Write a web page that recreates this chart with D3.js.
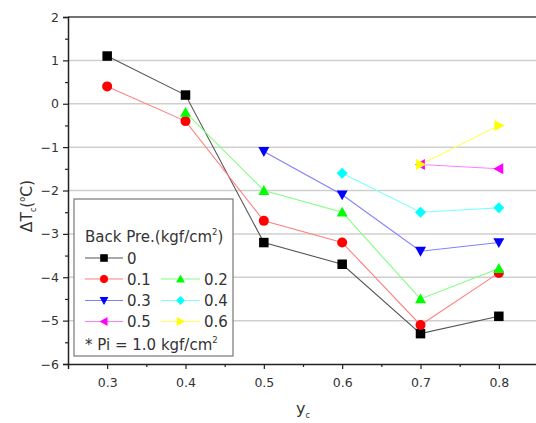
<!DOCTYPE html>
<html><head><meta charset="utf-8">
<script src="https://cdn.jsdelivr.net/npm/d3@7"></script>
<style>body{margin:0;background:#fff}svg{display:block;font-family:"DejaVu Sans",sans-serif}</style>
</head><body><svg id="c" width="536" height="423"></svg>
<script>
const xs = [0.3, 0.4, 0.5, 0.6, 0.7, 0.8];
const s0  = [1.1, 0.2, -3.2, -3.7, -5.3, -4.9];
const s01 = [0.4, -0.4, -2.7, -3.2, -5.1, -3.9];
const s02 = [null, -0.2, -2.0, -2.5, -4.5, -3.8];
const s03 = [null, null, -1.1, -2.1, -3.4, -3.2];
const s04 = [null, null, null, -1.6, -2.5, -2.4];
const s05 = [null, null, null, null, -1.4, -1.5];
const s06 = [null, null, null, null, -1.4, -0.5];
const seriesNames = ["0", "0.1", "0.2", "0.3", "0.4", "0.5", "0.6"];
const yTicks = [2, 1, 0, -1, -2, -3, -4, -5, -6];
const xTicks = [0.3, 0.4, 0.5, 0.6, 0.7, 0.8];

const series = [
  {name: seriesNames[0], vals: s0,  color: "#000000", line: "#555555", sym: "square"},
  {name: seriesNames[1], vals: s01, color: "#ff0000", line: "#ff8080", sym: "circle"},
  {name: seriesNames[2], vals: s02, color: "#00ff00", line: "#80ff80", sym: "up"},
  {name: seriesNames[3], vals: s03, color: "#0000ff", line: "#8080ff", sym: "down"},
  {name: seriesNames[4], vals: s04, color: "#00ffff", line: "#80ffff", sym: "diamond"},
  {name: seriesNames[5], vals: s05, color: "#ff00ff", line: "#ff80ff", sym: "left"},
  {name: seriesNames[6], vals: s06, color: "#ffff00", line: "#ffff60", sym: "right"}
];

const svg = d3.select("#c");
const L = 68, T = 17, B = 364;
const x = d3.scaleLinear().domain([0.25, 0.85]).range([L, 538]);
const y = d3.scaleLinear().domain([-6, 2]).range([B, T]);

// gridlines
svg.append("g").selectAll("line").data(yTicks.filter(v => v < 2 && v > -6)).join("line")
  .attr("x1", L).attr("x2", 536).attr("y1", d => y(d)).attr("y2", d => y(d))
  .attr("stroke", "#cfcfcf").attr("stroke-width", 1.5);

// top border
svg.append("line").attr("x1", L).attr("x2", 536).attr("y1", T).attr("y2", T)
  .attr("stroke", "#444").attr("stroke-width", 1.5);

// y axis
const yAxis = svg.append("g").attr("transform", `translate(${L},0)`)
  .call(d3.axisLeft(y).tickValues(yTicks).tickSize(5).tickFormat(d3.format("d")));
svg.append("g").attr("transform", `translate(${L},0)`)
  .call(d3.axisLeft(y).tickValues(d3.range(-5.5, 2, 1)).tickSize(3).tickFormat(""))
  .call(g => g.select(".domain").remove());
// x axis
const xAxis = svg.append("g").attr("transform", `translate(0,${B})`)
  .call(d3.axisBottom(x).tickValues(xTicks).tickSize(5).tickFormat(d3.format(".1f")));
svg.append("g").attr("transform", `translate(0,${B})`)
  .call(d3.axisBottom(x).tickValues([0.35, 0.45, 0.55, 0.65, 0.75]).tickSize(3).tickFormat(""))
  .call(g => g.select(".domain").remove());
svg.selectAll(".domain").attr("stroke", "#222").attr("stroke-width", 1.5);
svg.selectAll(".tick line").attr("stroke", "#222").attr("stroke-width", 1.2);
yAxis.selectAll("text").attr("font-size", 12.5).attr("fill", "#333").attr("x", -9)
  .attr("font-family", "'DejaVu Sans', sans-serif");
xAxis.selectAll("text").attr("font-size", 12.5).attr("fill", "#333").attr("y", 14)
  .attr("font-family", "'DejaVu Sans', sans-serif");

// axis titles
const yl = svg.append("text").attr("transform", "translate(32,206) rotate(-90)")
  .attr("text-anchor", "middle").attr("font-size", 15.5).attr("fill", "#333");
yl.append("tspan").text("ΔT");
yl.append("tspan").attr("font-size", 8).attr("dy", 4).text("c");
yl.append("tspan").attr("dy", -4).text("(");
yl.append("tspan").attr("font-size", 8).attr("dy", -7).text("o");
yl.append("tspan").attr("dy", 7).text("C)");

const xl = svg.append("text").attr("x", 296).attr("y", 414).attr("font-size", 16).attr("fill", "#333");
xl.append("tspan").text("y");
xl.append("tspan").attr("font-size", 8).attr("dy", 4).text("c");

// symbols
function drawSym(g, sym, cx, cy, color, k) {
  const s = 9.5 * k;
  let el;
  if (sym === "square") el = g.append("rect").attr("x", cx - s/2).attr("y", cy - s/2).attr("width", s).attr("height", s);
  else if (sym === "circle") el = g.append("circle").attr("cx", cx).attr("cy", cy).attr("r", 5 * k);
  else {
    const h = 5.5 * k;
    let pts;
    if (sym === "up") pts = [[0, -h], [h, h*0.8], [-h, h*0.8]];
    if (sym === "down") pts = [[0, h], [h, -h*0.8], [-h, -h*0.8]];
    if (sym === "left") pts = [[-h, 0], [h*0.8, -h], [h*0.8, h]];
    if (sym === "right") pts = [[h, 0], [-h*0.8, -h], [-h*0.8, h]];
    if (sym === "diamond") pts = [[0, -h], [h, 0], [0, h], [-h, 0]];
    el = g.append("polygon").attr("points", pts.map(p => [cx + p[0], cy + p[1]].join(",")).join(" "));
  }
  el.attr("fill", color);
}

const line = d3.line().defined(d => d[1] != null).x(d => x(d[0])).y(d => y(d[1]));
const plot = svg.append("g");
series.forEach(s => {
  const pts = xs.map((v, i) => [v, s.vals[i]]);
  plot.append("path").datum(pts).attr("d", line).attr("fill", "none")
    .attr("stroke", s.line).attr("stroke-width", 1.1);
});
series.forEach(s => {
  xs.forEach((v, i) => { if (s.vals[i] != null) drawSym(plot, s.sym, x(v), y(s.vals[i]), s.color, 1); });
});

// legend
const lg = svg.append("g");
lg.append("rect").attr("x", 74).attr("y", 199).attr("width", 159).attr("height", 157)
  .attr("fill", "#fff").attr("stroke", "#777").attr("stroke-width", 1.2);
const lt = lg.append("text").attr("x", 85).attr("y", 242).attr("font-size", 15).attr("fill", "#333");
lt.append("tspan").text("Back Pre.(kgf/cm");
lt.append("tspan").attr("font-size", 8.5).attr("dy", -7).text("2");
lt.append("tspan").attr("dy", 7).text(")");
const rowsY = [258, 279, 300.5, 321.5];
const layout = [[0,0,0],[1,1,0],[2,1,1],[3,2,0],[4,2,1],[5,3,0],[6,3,1]];
layout.forEach(([si, r, c]) => {
  const s = series[si];
  const x0 = c === 0 ? 85 : 161, x1 = c === 0 ? 123 : 200, mx = (x0 + x1) / 2;
  const yy = rowsY[r];
  lg.append("line").attr("x1", x0).attr("x2", x1).attr("y1", yy).attr("y2", yy)
    .attr("stroke", s.line).attr("stroke-width", 1.1);
  drawSym(lg, s.sym, mx, yy, s.color, 0.8);
  lg.append("text").attr("x", x1 + 4).attr("y", yy + 5.5).attr("font-size", 15).attr("fill", "#333").text(s.name);
});
const pt = lg.append("text").attr("x", 85).attr("y", 350).attr("font-size", 15).attr("fill", "#333");
pt.append("tspan").text("* Pi = 1.0 kgf/cm");
pt.append("tspan").attr("font-size", 8.5).attr("dy", -7).text("2");
</script></body></html>
